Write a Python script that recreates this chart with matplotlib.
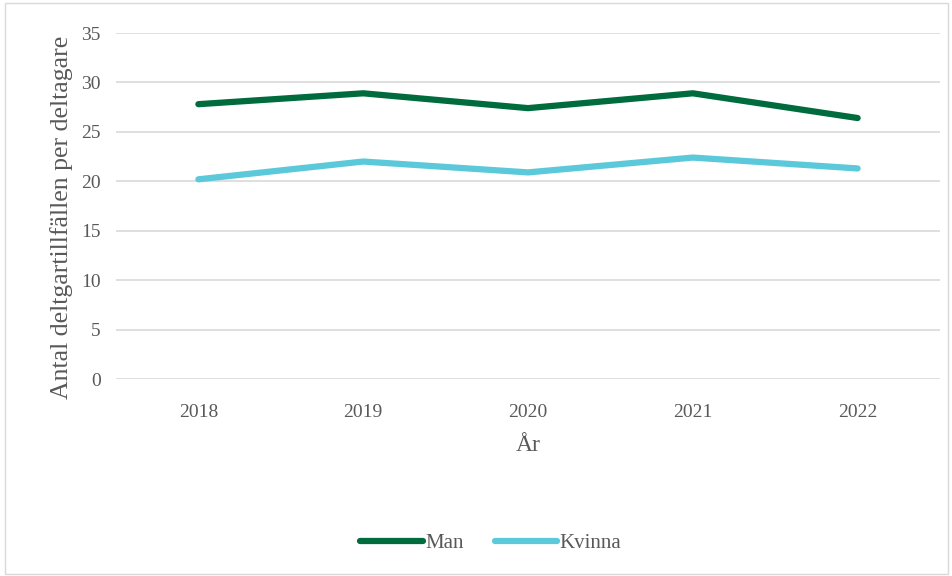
import matplotlib
matplotlib.use("Agg")
import matplotlib.pyplot as plt
from matplotlib.patches import Rectangle

years = ["2018", "2019", "2020", "2021", "2022"]
man = [27.8, 28.9, 27.4, 28.9, 26.4]
kvinna = [20.2, 22.0, 20.9, 22.4, 21.3]

text_color = "#595959"
grid_color = "#D9D9D9"

plt.rcParams["font.family"] = ["Liberation Serif", "DejaVu Serif"]

fig = plt.figure(figsize=(9.53, 5.76), dpi=100)
fig.patches.append(Rectangle((0.005, 0.004), 0.99, 0.99, transform=fig.transFigure,
                             fill=False, edgecolor=grid_color, linewidth=1))
ax = fig.add_axes([0.1217, 0.342, 0.8647, 0.6007])

x = range(len(years))
ax.plot(x, man, color="#006B3C", linewidth=4.5, solid_capstyle="round", label="Man")
ax.plot(x, kvinna, color="#5BC9DA", linewidth=4.5, solid_capstyle="round", label="Kvinna")

ax.set_xlim(-0.5, len(years) - 0.5)
ax.set_ylim(0, 35)
ax.set_yticks(range(0, 36, 5))
ax.set_xticks(list(x))
ax.set_xticklabels(years)
ax.grid(axis="y", color=grid_color, linewidth=1.2)
ax.set_axisbelow(True)
for s in ax.spines.values():
    s.set_visible(False)
ax.tick_params(length=0, labelsize=14, colors=text_color)
ax.tick_params(axis="x", pad=18)
ax.tick_params(axis="y", pad=11)

ax.set_xlabel("År", fontsize=17, color=text_color, labelpad=10)
ax.set_ylabel("Antal deltgartillfällen per deltagare", fontsize=18.5, color=text_color)
ax.yaxis.set_label_coords(-0.052, 0.468)

fig.legend(loc="center", bbox_to_anchor=(0.515, 0.057), ncol=2, frameon=False,
           fontsize=15, labelcolor=text_color, handlelength=3.0, handletextpad=0.1,
           columnspacing=1.5)

fig.savefig("out.png", dpi=100)
